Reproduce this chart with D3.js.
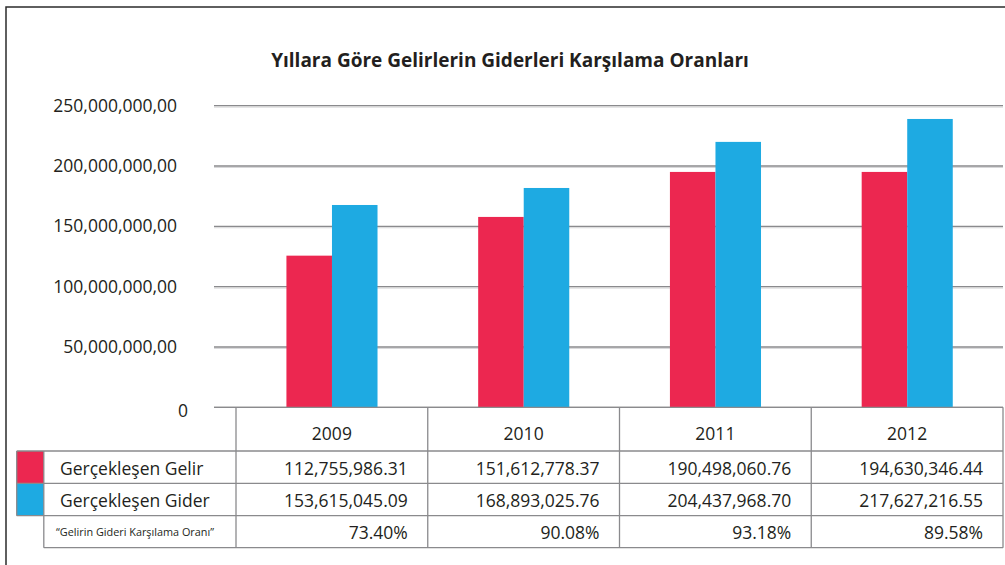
<!DOCTYPE html>
<html>
<head>
<meta charset="utf-8">
<script src="https://cdn.jsdelivr.net/npm/d3@7"></script>
<style>
  body { margin: 0; background: #fff; }
  svg { display: block; font-family: "Open Sans", sans-serif; }
</style>
</head>
<body>
<svg width="1005" height="565"></svg>
<script>
const years = ["2009", "2010", "2011", "2012"];
const seriesNames = ["Gerçekleşen Gelir", "Gerçekleşen Gider"];
// bar heights as drawn in the picture
const gelirBars = [125.7e6, 157.8e6, 195.1e6, 195.1e6];
const giderBars = [167.7e6, 181.8e6, 220.0e6, 239.0e6];
// table texts
const gelirText = ["112,755,986.31", "151,612,778.37", "190,498,060.76", "194,630,346.44"];
const giderText = ["153,615,045.09", "168,893,025.76", "204,437,968.70", "217,627,216.55"];
const ratioText = ["73.40%", "90.08%", "93.18%", "89.58%"];
const ratioLabel = "“Gelirin Gideri Karşılama Oranı”";
const yTicks = [0, 50e6, 100e6, 150e6, 200e6, 250e6];
const title = "Yıllara Göre Gelirlerin Giderleri Karşılama Oranları";

const colors = ["#ec2750", "#1eaae2"];
const textColor = "#231f20";
const lineColor = "#8a8a8d";

const svg = d3.select("svg");

// outer frame (only top and left are visible)
svg.append("path")
    .attr("d", "M6,566V7H1006")
    .attr("fill", "none")
    .attr("stroke", "#2b2b2b")
    .attr("stroke-width", 1.5);

svg.append("text")
    .attr("x", 510)
    .attr("y", 67)
    .attr("text-anchor", "middle")
    .attr("font-size", 19)
    .attr("font-weight", "bold")
    .attr("fill", textColor)
    .text(title);

const x = d3.scaleBand().domain(years).range([236, 1003]);
const x1 = d3.scaleBand().domain(seriesNames)
    .range([x.bandwidth() * 0.263, x.bandwidth() * 0.738]);
const y = d3.scaleLinear().domain([0, 250e6]).range([407.3, 105.7]);

// grid lines
const grid = svg.append("g");
grid.selectAll("line.shadow")
    .data(yTicks.filter(d => d > 0))
    .enter().append("line")
    .attr("class", "shadow")
    .attr("x1", 214).attr("x2", 1003)
    .attr("y1", d => y(d) + 1.4).attr("y2", d => y(d) + 1.4)
    .attr("stroke", "#d4d4d6").attr("stroke-width", 1);
grid.selectAll("line.main")
    .data(yTicks)
    .enter().append("line")
    .attr("class", "main")
    .attr("x1", 214).attr("x2", 1003)
    .attr("y1", d => y(d)).attr("y2", d => y(d))
    .attr("stroke", lineColor).attr("stroke-width", 1.3);

// y axis labels
const yAxis = svg.append("g")
    .attr("transform", "translate(177,0)")
    .call(d3.axisLeft(y).tickValues(yTicks).tickSize(0).tickPadding(0)
        .tickFormat(d => d === 0 ? "0" : d3.format(",")(d) + ",00"));
yAxis.select(".domain").remove();
yAxis.selectAll("text")
    .attr("font-family", "Open Sans, sans-serif")
    .attr("font-size", 17.5)
    .attr("fill", textColor);
yAxis.selectAll(".tick").filter(d => d === 0).select("text")
    .attr("x", 11).attr("dy", "0.55em");

// bars
const barData = years.map((yr, i) => ({year: yr, values: [gelirBars[i], giderBars[i]]}));
const groups = svg.append("g").selectAll("g")
    .data(barData)
    .enter().append("g")
    .attr("transform", d => `translate(${x(d.year)},0)`);
groups.selectAll("rect")
    .data(d => d.values.map((v, k) => ({name: seriesNames[k], value: v, k})))
    .enter().append("rect")
    .attr("x", d => x1(d.name))
    .attr("width", x1.bandwidth())
    .attr("y", d => y(d.value))
    .attr("height", d => y(0) - y(d.value))
    .attr("fill", d => colors[d.k]);

// redraw baseline over bars
svg.append("line")
    .attr("x1", 214).attr("x2", 1003)
    .attr("y1", y(0)).attr("y2", y(0))
    .attr("stroke", lineColor).attr("stroke-width", 1.3);

// data table
const rowEdges = [407.3, 451, 483.3, 515.7, 547.7];
const swatchLeft = 16.7, labelLeft = 43.8, tableLeft = 236, tableRight = 1003;
const table = svg.append("g");

// legend swatches
table.selectAll("rect.swatch")
    .data(colors)
    .enter().append("rect")
    .attr("class", "swatch")
    .attr("x", swatchLeft)
    .attr("y", (d, i) => rowEdges[i + 1])
    .attr("width", labelLeft - swatchLeft)
    .attr("height", (d, i) => rowEdges[i + 2] - rowEdges[i + 1])
    .attr("fill", d => d);

const hLines = [
    {y: rowEdges[1], x1: swatchLeft},
    {y: rowEdges[2], x1: swatchLeft},
    {y: rowEdges[3], x1: swatchLeft},
    {y: rowEdges[4], x1: labelLeft}
];
table.selectAll("line.h")
    .data(hLines)
    .enter().append("line")
    .attr("x1", d => d.x1).attr("x2", tableRight)
    .attr("y1", d => d.y).attr("y2", d => d.y)
    .attr("stroke", lineColor).attr("stroke-width", 1.3);

const vLines = [
    {x: swatchLeft, y1: rowEdges[1], y2: rowEdges[3]},
    {x: labelLeft, y1: rowEdges[1], y2: rowEdges[4]},
    ...years.map(yr => ({x: x(yr), y1: rowEdges[0], y2: rowEdges[4]})),
    {x: tableRight, y1: rowEdges[0], y2: rowEdges[4]}
];
table.selectAll("line.v")
    .data(vLines)
    .enter().append("line")
    .attr("x1", d => d.x).attr("x2", d => d.x)
    .attr("y1", d => d.y1).attr("y2", d => d.y2)
    .attr("stroke", lineColor).attr("stroke-width", 1.3);

// header years
table.selectAll("text.year")
    .data(years)
    .enter().append("text")
    .attr("x", d => x(d) + x.bandwidth() / 2)
    .attr("y", 440)
    .attr("text-anchor", "middle")
    .attr("font-size", 17.5)
    .attr("fill", textColor)
    .text(d => d);

// row labels
table.selectAll("text.label")
    .data(seriesNames)
    .enter().append("text")
    .attr("x", 60)
    .attr("y", (d, i) => [474.5, 506.5][i])
    .attr("font-size", 17.5)
    .attr("fill", textColor)
    .text(d => d);

table.append("text")
    .attr("x", 56)
    .attr("y", 535.5)
    .attr("font-size", 11.5)
    .attr("textLength", 158)
    .attr("lengthAdjust", "spacingAndGlyphs")
    .attr("fill", textColor)
    .text(ratioLabel);

// cell values
const rows = [
    {texts: gelirText, base: 474.5},
    {texts: giderText, base: 506.5},
    {texts: ratioText, base: 538.5}
];
rows.forEach(row => {
    table.append("g").selectAll("text")
        .data(row.texts)
        .enter().append("text")
        .attr("x", (d, i) => x(years[i]) + x.bandwidth() - 20)
        .attr("y", row.base)
        .attr("text-anchor", "end")
        .attr("font-size", 17.5)
        .attr("fill", textColor)
        .text(d => d);
});
</script>
</body>
</html>
